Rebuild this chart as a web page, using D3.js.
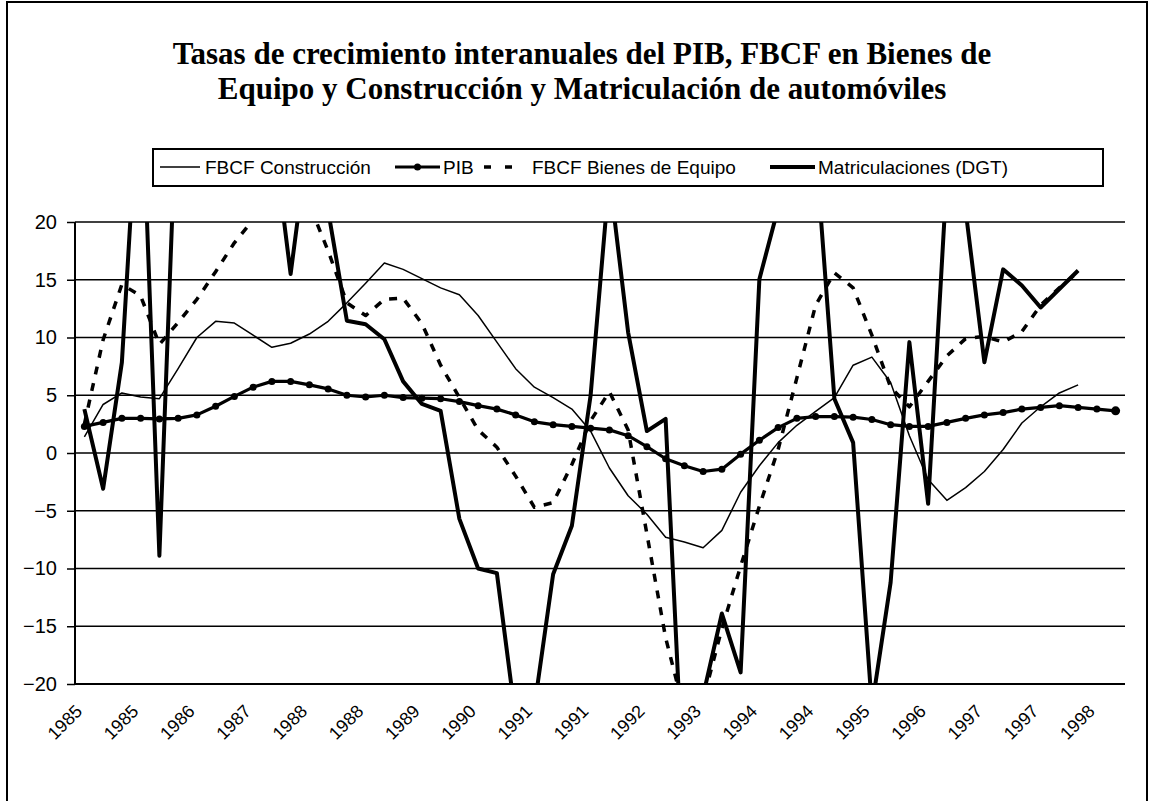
<!DOCTYPE html>
<html><head><meta charset="utf-8">
<script src="https://cdn.jsdelivr.net/npm/d3@7"></script>
<style>body{margin:0;background:#fff}svg{display:block}</style>
</head><body><svg id="c" width="1150" height="801"></svg>
<script>
const categories = ["1985","1985","1985","1985","1986","1986","1986","1986","1987","1987","1987","1987",
"1988","1988","1988","1988","1989","1989","1989","1989","1990","1990","1990","1990",
"1991","1991","1991","1991","1992","1992","1992","1992","1993","1993","1993","1993",
"1994","1994","1994","1994","1995","1995","1995","1995","1996","1996","1996","1996",
"1997","1997","1997","1997","1998","1998","1998","1998"];
const pib = [2.3,2.65,3.0,3.0,2.95,3.0,3.3,4.05,4.9,5.7,6.2,6.2,5.9,5.55,5.0,4.85,5.0,4.8,4.75,4.7,
4.45,4.1,3.8,3.3,2.7,2.45,2.3,2.15,2.0,1.5,0.55,-0.5,-1.1,-1.6,-1.4,-0.1,1.1,2.2,3.0,3.15,
3.15,3.1,2.9,2.45,2.3,2.3,2.65,3.0,3.3,3.5,3.8,3.95,4.1,3.95,3.8,3.65];
const construccion = [1.4,4.2,5.2,4.85,4.7,7.3,10.0,11.4,11.25,10.2,9.15,9.5,10.3,11.4,13.0,14.7,16.45,15.9,15.1,14.3,
13.7,11.9,9.6,7.3,5.7,4.8,3.8,1.9,-1.3,-3.7,-5.3,-7.3,-7.7,-8.2,-6.7,-3.4,-1.1,0.9,2.4,3.6,
4.8,7.6,8.3,6.1,1.5,-2.3,-4.1,-3.0,-1.6,0.3,2.6,4.0,5.2,5.9,null,null];
const bienesEquipo = [2.5,9.8,14.6,13.6,9.4,11.3,13.3,15.7,18.2,20.2,21,22,21.5,17.5,13.0,11.9,13.3,13.4,11.2,7.6,
4.8,2.0,0.5,-2.0,-4.7,-4.3,-1.0,2.8,5.3,2.0,-7.0,-16.0,-22.4,-21.4,-15.2,-9.8,-4.6,0.3,6.5,12.8,
15.6,14.3,10.2,5.7,4.0,6.2,8.4,9.9,10.1,9.6,10.5,12.8,14.3,15.7,null,null];
const matriculaciones = [3.8,-3.1,7.85,35,-8.9,34,36,38,36,33,28.5,15.5,28,21,11.45,11.15,9.85,6.2,4.25,3.65,
-5.7,-10.0,-10.4,-23,-22,-10.5,-6.3,5.0,24,10.45,1.9,2.95,-31,-21,-13.9,-19.0,15.05,21.2,28,26.5,
4.7,0.9,-22,-11.2,9.6,-4.4,24,21,7.85,15.9,14.5,12.6,14.2,15.8,null,null];
const yTicks = [-20,-15,-10,-5,0,5,10,15,20];
const labelEvery = 3;
const titleLines = ["Tasas de crecimiento interanuales del PIB, FBCF en Bienes de",
"Equipo y Construcción y Matriculación de automóviles"];
const seriesNames = ["FBCF Construcción","PIB","FBCF Bienes de Equipo","Matriculaciones (DGT)"];

const svg = d3.select("#c");
svg.append("rect").attr("width",1150).attr("height",801).attr("fill","#fff");
// outer chart frame
svg.append("rect").attr("x",7).attr("y",2).attr("width",1140).attr("height",1000)
  .attr("fill","none").attr("stroke","#000").attr("stroke-width",2);

const plot = {left:75, right:1125, top:222, bottom:684};
const x = d3.scalePoint().domain(d3.range(categories.length)).range([plot.left, plot.right]).padding(0.5);
const y = d3.scaleLinear().domain([-20,20]).range([plot.bottom, plot.top]);

// title
svg.append("text").attr("x",582).attr("y",64).attr("text-anchor","middle")
  .style("font-family","'Liberation Serif','Times New Roman',serif").style("font-weight","bold").style("font-size","31px")
  .selectAll("tspan").data(titleLines).join("tspan")
  .attr("x",582).attr("dy",(d,i)=>i? "35px":"0").text(d=>d);

// gridlines
svg.append("g").selectAll("line").data(yTicks).join("line")
  .attr("x1",plot.left).attr("x2",plot.right).attr("y1",d=>y(d)).attr("y2",d=>y(d))
  .attr("stroke","#000").attr("stroke-width",d=>d===-20?2:1.5);

// y axis
const yAxis = svg.append("g").attr("transform",`translate(${plot.left},0)`)
  .call(d3.axisLeft(y).tickValues(yTicks).tickSize(8).tickPadding(10).tickFormat(d3.format("d")));
yAxis.select(".domain").attr("stroke","#000").attr("stroke-width",2).attr("d",`M0,${plot.top}V${plot.bottom}`);
yAxis.selectAll(".tick line").attr("stroke","#000").attr("stroke-width",1.5);
yAxis.selectAll("text").style("font-family","'Liberation Sans',Arial,sans-serif").style("font-size","20px").attr("fill","#000");

// x axis labels
const xTickVals = d3.range(0,categories.length,labelEvery);
const xAxis = svg.append("g").attr("transform",`translate(0,${plot.bottom})`)
  .call(d3.axisBottom(x).tickValues(xTickVals).tickSize(0).tickFormat(i=>categories[i]));
xAxis.select(".domain").remove();
xAxis.selectAll("text").attr("x",0).attr("y",0).attr("dy","0.35em")
  .attr("transform","translate(-6,24) rotate(-45)").attr("text-anchor","end")
  .style("font-family","'Liberation Sans',Arial,sans-serif").style("font-size","18px").attr("fill","#000");

// clip
svg.append("clipPath").attr("id","pc").append("rect")
  .attr("x",plot.left).attr("y",plot.top).attr("width",plot.right-plot.left).attr("height",plot.bottom-plot.top);
const g = svg.append("g").attr("clip-path","url(#pc)");
const lineIdx = d3.line().defined(d=>d[1]!=null).x(d=>x(d[0])).y(d=>y(d[1]));
function path(data, w, dash){
  g.append("path").datum(data.map((v,i)=>[i,v])).attr("d",lineIdx).attr("fill","none")
   .attr("stroke","#000").attr("stroke-width",w).attr("stroke-linejoin","round")
   .attr("stroke-dasharray",dash||null);
}
path(construccion,1.5);
path(bienesEquipo,3.5,"8,9");
path(matriculaciones,4);
path(pib,3.2);
g.selectAll("circle.pib").data(pib.map((v,i)=>[i,v])).join("circle").attr("class","pib")
  .attr("cx",d=>x(d[0])).attr("cy",d=>y(d[1])).attr("r",(d,i)=>i===pib.length-1?4.5:3.5).attr("fill","#000");

// legend
const lg = svg.append("g");
lg.append("rect").attr("x",153).attr("y",149).attr("width",950).attr("height",37)
  .attr("fill","#fff").attr("stroke","#000").attr("stroke-width",2);
const ly = 167;
const items = [
  {x1:160,x2:200,tx:205,w:1.5},
  {x1:395,x2:440,tx:443,w:3.2,marker:true},
  {x1:484,x2:520,tx:532,w:3.5,dash:"7,14"},
  {x1:770,x2:815,tx:818,w:4}
];
items.forEach((it,k)=>{
  lg.append("line").attr("x1",it.x1).attr("x2",it.x2).attr("y1",ly).attr("y2",ly)
    .attr("stroke","#000").attr("stroke-width",it.w).attr("stroke-dasharray",it.dash||null);
  if(it.marker) lg.append("circle").attr("cx",(it.x1+it.x2)/2).attr("cy",ly).attr("r",3.5).attr("fill","#000");
  lg.append("text").attr("x",it.tx).attr("y",ly).attr("dy","0.35em").text(seriesNames[k])
    .style("font-family","'Liberation Sans',Arial,sans-serif").style("font-size","19px");
});
</script></body></html>
